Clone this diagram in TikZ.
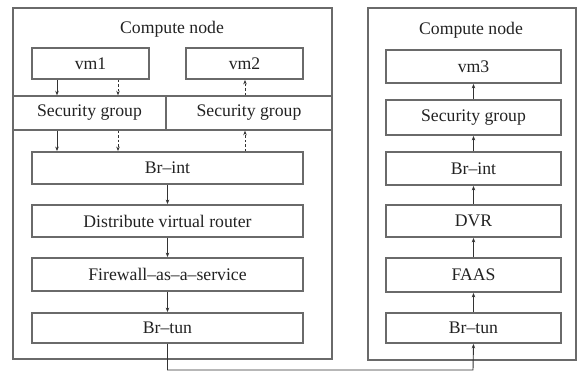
\documentclass[tikz,border=0pt]{standalone}
\usepackage{fontspec}
\setmainfont{Liberation Serif}
\usetikzlibrary{arrows.meta}
\definecolor{edge}{HTML}{6A6A6A}
\definecolor{ink}{HTML}{222222}
\definecolor{wire}{HTML}{333333}
\begin{document}
\begin{tikzpicture}[x=1pt,y=-1pt,
  font=\fontsize{17.7}{20}\selectfont, text=ink,
  frame/.style={draw=edge, line width=1.4pt, inner sep=0pt},
  blk/.style={draw=edge, line width=1.8pt, inner sep=0pt},
  arr/.style={draw=wire, line width=0.9pt, -{Stealth[length=4.5pt,width=3.5pt]}},
  darr/.style={arr, dash pattern=on 2.5pt off 2pt}]
\useasboundingbox (0,0) rectangle (583,372);

% outer hosts
\node[frame, minimum width=319pt, minimum height=351pt] (hostL) at (172.5,183.5) {};
\node[frame, minimum width=208pt, minimum height=352pt] (hostR) at (472,184) {};
\node (titleL) at (172,29) {Compute node};
\node (titleR) at (471,30) {Compute node};

% left host
\node[blk, minimum width=117pt, minimum height=31pt] (vm1) at (90.5,63.5) {vm1};
\node[blk, minimum width=117pt, minimum height=31pt] (vm2) at (244.5,63.5) {vm2};
\node[frame, minimum width=153pt, minimum height=34pt] (sgA) at (89.5,113) {Security group};
\node[frame, minimum width=166pt, minimum height=34pt] (sgB) at (249,113) {Security group};
\node[blk, minimum width=271pt, minimum height=32pt] (brintL) at (167.5,168) {Br–int};
\node[blk, minimum width=271pt, minimum height=32pt] (dvrL) at (167.5,221) {Distribute virtual router};
\node[blk, minimum width=271pt, minimum height=33pt] (fwL) at (167.5,274.5) {Firewall–as–a–service};
\node[blk, minimum width=271pt, minimum height=30pt] (tunL) at (167.5,328) {Br–tun};

% right host
\node[blk, minimum width=175pt, minimum height=33pt] (vm3) at (473.5,66.5) {vm3};
\node[blk, minimum width=175pt, minimum height=35pt] (sgR) at (473.5,117.5) {Security group};
\node[blk, minimum width=175pt, minimum height=33pt] (brintR) at (473.5,168.5) {Br–int};
\node[blk, minimum width=175pt, minimum height=32pt] (dvrR) at (473.5,221) {DVR};
\node[blk, minimum width=175pt, minimum height=34pt] (faasR) at (473.5,275) {FAAS};
\node[blk, minimum width=175pt, minimum height=30pt] (tunR) at (473.5,328) {Br–tun};

% lanes of the vertical links
\coordinate (laneA) at (57,0);
\coordinate (laneB) at (118,0);
\coordinate (laneC) at (245,0);
\coordinate (laneL) at (166,0);
\coordinate (laneR) at (473,0);
\coordinate (trunk) at (0,370);

% left host traffic
\draw[arr]  (vm1.south -| laneA) -- (sgA.north -| laneA);
\draw[darr] (vm1.south -| laneB) -- (sgA.north -| laneB);
\draw[darr] (sgB.north -| laneC) -- (vm2.south -| laneC);
\draw[arr]  (sgA.south -| laneA) -- (brintL.north -| laneA);
\draw[darr] (sgA.south -| laneB) -- (brintL.north -| laneB);
\draw[darr] (brintL.north -| laneC) -- (sgB.south -| laneC);
\draw[arr] (brintL) -- (dvrL);
\draw[arr] (dvrL) -- (fwL);
\draw[arr] (fwL) -- (tunL);

% tunnel between hosts
\draw[arr] (tunL.south) -- (tunL.south |- trunk) -- (laneR |- trunk) -- (tunR.south);

% right host traffic
\draw[arr] (tunR) -- (faasR);
\draw[arr] (faasR) -- (dvrR);
\draw[arr] (dvrR) -- (brintR);
\draw[arr] (brintR) -- (sgR);
\draw[arr] (sgR) -- (vm3);
\end{tikzpicture}
\end{document}
